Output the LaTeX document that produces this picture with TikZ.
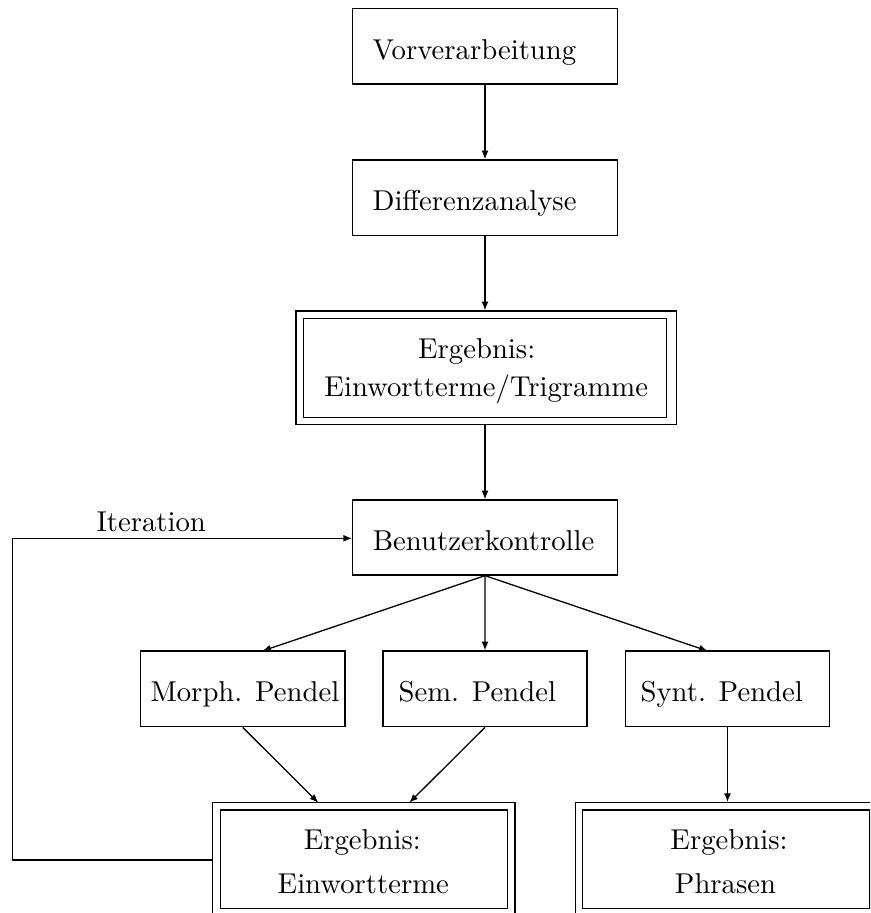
\documentclass[tikz,border=0pt]{standalone}
\usetikzlibrary{arrows.meta,fit}
\begin{document}
\begin{tikzpicture}[x=0.3484pt,y=-0.3484pt,
  frame/.style={draw,line width=0.45pt,inner sep=0pt},
  lbl/.style={inner sep=0pt,anchor=base west},
  clbl/.style={inner sep=0pt,anchor=base},
  conn/.style={line width=0.45pt,-{Latex[length=3pt,width=2.4pt]}}]
\useasboundingbox (0,0) rectangle (870,913);
\clip (0,0) rectangle (870,913);
% boxes and texts
\node[frame, fit={(352.7,8.3) (617.3,84)}] (vor) {};
\node[lbl] (tvor) at (372,59.3) {Vorverarbeitung};
\node[frame, fit={(352.7,160) (617.3,235.3)}] (dif) {};
\node[lbl] (tdif) at (372,210.5) {Differenzanalyse};
\node[frame, fit={(296,311) (676.7,424.3)}] (erg1) {};
\node[frame, fit={(303.3,318.3) (666.7,417.3)}] (erg1i) {};
\node[clbl] (terg1a) at (476.7,358.3) {Ergebnis:};
\node[clbl] (terg1b) at (486.3,396.7) {Einwortterme/Trigramme};
\node[frame, fit={(352.7,500) (617.3,575)}] (ben) {};
\node[lbl] (tben) at (372.3,550.7) {Benutzerkontrolle};
\node[lbl] (tit) at (96,531.7) {Iteration};
\node[frame, fit={(140.4,651) (345,726.7)}] (mor) {};
\node[lbl] (tmor) at (150,701.7) {Morph. Pendel};
\node[frame, fit={(383,651) (587,726.7)}] (sem) {};
\node[lbl] (tsem) at (398,701.7) {Sem. Pendel};
\node[frame, fit={(625.4,651) (829.6,726.7)}] (syn) {};
\node[lbl] (tsyn) at (640,701.7) {Synt. Pendel};
\node[frame, fit={(212.7,802.7) (515,915.6)}] (erg2) {};
\node[frame, fit={(220.7,810) (507.3,908.3)}] (erg2i) {};
\node[clbl] (terg2a) at (362.3,849.3) {Ergebnis:};
\node[clbl] (terg2b) at (363.3,893.3) {Einwortterme};
\node[frame, fit={(575.5,802.7) (877.8,915.6)}] (erg3) {};
\node[frame, fit={(582.7,810) (870.1,908.3)}] (erg3i) {};
\node[clbl] (terg3a) at (729,849.3) {Ergebnis:};
\node[clbl] (terg3b) at (725.5,893.3) {Phrasen};
% connectors
\draw[conn] (vor.south) -- (dif.north);
\draw[conn] (dif.south) -- (dif.south |- erg1.north);
\draw[conn] (ben.north |- erg1.south) -- (ben.north);
\coordinate (loopb) at (12.7,860);
\coordinate (loopt) at (12.7,538.3);
\draw[conn] (erg2.west |- loopb) -- (loopb) -- (loopt) -- (loopt -| ben.west);
\coordinate (morin) at (262.3,651);
\coordinate (synin) at (707.7,651);
\draw[conn] (ben.south) -- (morin);
\draw[conn] (ben.south) -- (sem.north);
\draw[conn] (ben.south) -- (synin);
\coordinate (e2a) at (318.3,802.7);
\coordinate (e2b) at (409.3,802.7);
\draw[conn] (mor.south) -- (e2a);
\draw[conn] (sem.south) -- (e2b);
\draw[conn] (syn.south) -- (syn.south |- erg3.north);
\end{tikzpicture}
\end{document}
